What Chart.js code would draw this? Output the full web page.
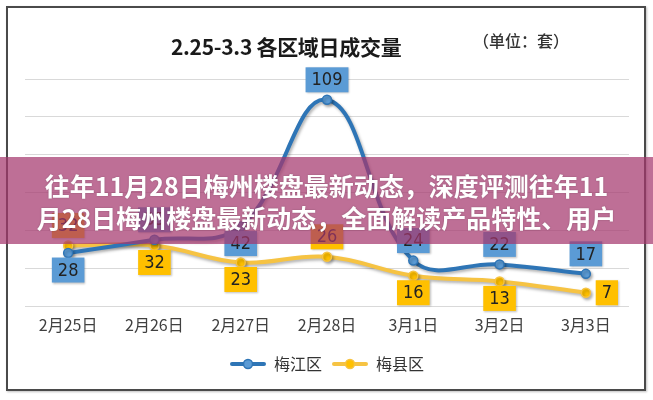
<!DOCTYPE html>
<html lang="zh-CN">
<head>
<meta charset="utf-8">
<title>2.25-3.3 各区域日成交量</title>
<script src="https://cdn.jsdelivr.net/npm/chart.js@4.4.1/dist/chart.umd.min.js"></script>
<style>
  html, body { margin: 0; padding: 0; background: #fff; }
  .stage { position: relative; width: 653px; height: 400px; overflow: hidden; font-family: 'Noto Sans CJK SC', sans-serif; }
  .frame { position: absolute; left: 6px; top: 6px; width: 636px; height: 381px; border: 2px solid #4a4a4a; box-shadow: 1px 1px 2px rgba(0, 0, 0, 0.25); }
  #chart { position: absolute; left: 0; top: 0; }
  .title { position: absolute; left: 171px; top: 32px; font-size: 21px; line-height: 28px; font-weight: bold; color: #1a1a1a; white-space: nowrap; letter-spacing: -0.3px; }
  .unit { position: absolute; left: 473px; top: 29px; font-size: 16px; line-height: 22px; font-weight: 500; color: #333; white-space: nowrap; }
  .banner {
    position: absolute; left: 0; top: 157px; width: 653px; height: 87px;
    background: rgba(165, 55, 110, 0.72);
    display: flex; align-items: center; justify-content: center; text-align: center;
    color: #fff; font-size: 25px; line-height: 32px; font-weight: bold;
    text-shadow: 0 0 2px rgba(0, 0, 0, 0.25);
  }
</style>
</head>
<body>
<div class="stage">
  <div class="frame"></div>
  <canvas id="chart" width="653" height="400"></canvas>
  <div class="title">2.25-3.3 各区域日成交量</div>
  <div class="unit">（单位：套）</div>
  <div class="banner">往年11月28日梅州楼盘最新动态，深度评测往年11<br>月28日梅州楼盘最新动态，全面解读产品特性、用户</div>
</div>
<script>
const dates = ['2月25日', '2月26日', '2月27日', '2月28日', '3月1日', '3月2日', '3月3日'];
const meijiang = [28, 35, 42, 109, 24, 22, 17];
const meixian = [32, 32, 23, 26, 16, 13, 7];
const yTicks = { min: 0, max: 120, step: 20 };

// where each value label sits relative to its point
const meijiangLabelPos = ['below', 'above', 'below', 'above', 'above', 'above', 'above'];
const meixianLabelPos = ['above', 'below', 'below', 'above', 'below', 'below', 'right'];

const BLUE_LINE = '#2E75B6';
const BLUE_FILL = '#5B9BD5';
const GOLD_LINE = '#F6C343';
const GOLD_FILL = '#FFC000';

function makeLegendIcon(lineColor, dotColor) {
  const c = document.createElement('canvas');
  c.width = 36;
  c.height = 12;
  const g = c.getContext('2d');
  g.strokeStyle = lineColor;
  g.lineWidth = 4;
  g.lineCap = 'round';
  g.beginPath();
  g.moveTo(2, 6);
  g.lineTo(34, 6);
  g.stroke();
  g.fillStyle = dotColor;
  g.lineWidth = 1.5;
  g.beginPath();
  g.arc(18, 6, 4.5, 0, Math.PI * 2);
  g.fill();
  g.stroke();
  return c;
}

const lineShadow = {
  id: 'lineShadow',
  beforeDatasetDraw(chart) {
    const ctx = chart.ctx;
    ctx.save();
    ctx.shadowColor = 'rgba(0, 0, 0, 0.3)';
    ctx.shadowBlur = 3;
    ctx.shadowOffsetX = 1.5;
    ctx.shadowOffsetY = 2;
  },
  afterDatasetDraw(chart) {
    chart.ctx.restore();
  },
};

const boxLabels = {
  id: 'boxLabels',
  afterDatasetsDraw(chart) {
    const ctx = chart.ctx;
    ctx.save();
    ctx.font = '18px "Liberation Sans Narrow", "DejaVu Sans Condensed", sans-serif';
    ctx.textAlign = 'center';
    ctx.textBaseline = 'middle';
    chart.data.datasets.forEach((ds, di) => {
      const meta = chart.getDatasetMeta(di);
      meta.data.forEach((pt, i) => {
        const text = String(ds.data[i]);
        const pos = ds.labelPos[i];
        const w = ctx.measureText(text).width + 12;
        const h = 25;
        let cx = pt.x;
        let cy = pt.y;
        if (pos === 'above') cy -= 20;
        else if (pos === 'below') cy += 17;
        else cx += 21;
        ctx.shadowColor = 'rgba(0, 0, 0, 0.25)';
        ctx.shadowBlur = 2;
        ctx.shadowOffsetX = 1;
        ctx.shadowOffsetY = 1;
        ctx.fillStyle = ds.labelFill;
        ctx.fillRect(cx - w / 2, cy - h / 2, w, h);
        ctx.shadowColor = 'transparent';
        ctx.fillStyle = '#222';
        ctx.fillText(text, cx, cy + 1);
      });
    });
    ctx.restore();
  },
};

new Chart(document.getElementById('chart'), {
  type: 'line',
  data: {
    labels: dates,
    datasets: [
      {
        label: '梅江区',
        data: meijiang,
        labelPos: meijiangLabelPos,
        labelFill: BLUE_FILL,
        borderColor: BLUE_LINE,
        backgroundColor: BLUE_FILL,
        pointBackgroundColor: BLUE_FILL,
        pointBorderColor: BLUE_LINE,
        borderWidth: 4,
        pointRadius: 4.5,
        pointBorderWidth: 1.5,
        tension: 0.4,
        fill: false,
      },
      {
        label: '梅县区',
        data: meixian,
        labelPos: meixianLabelPos,
        labelFill: GOLD_FILL,
        borderColor: GOLD_LINE,
        backgroundColor: GOLD_FILL,
        pointBackgroundColor: GOLD_FILL,
        pointBorderColor: GOLD_LINE,
        borderWidth: 4,
        pointRadius: 4.5,
        pointBorderWidth: 1.5,
        tension: 0.4,
        fill: false,
      },
    ],
  },
  options: {
    responsive: false,
    animation: false,
    events: [],
    layout: { padding: { left: 25, right: 24, top: 79, bottom: 18 } },
    plugins: {
      title: { display: false },
      tooltip: { enabled: false },
      legend: {
        position: 'bottom',
        labels: {
          usePointStyle: true,
          pointStyleWidth: 36,
          padding: 10,
          color: '#333',
          font: { family: "'Noto Sans CJK SC', sans-serif", size: 16 },
          generateLabels: (chart) => chart.data.datasets.map((ds, i) => ({
            text: ds.label,
            pointStyle: makeLegendIcon(ds.borderColor, ds.pointBackgroundColor),
            fillStyle: ds.pointBackgroundColor,
            strokeStyle: ds.borderColor,
            lineWidth: 0,
            fontColor: '#333',
            datasetIndex: i,
          })),
        },
      },
    },
    scales: {
      x: {
        offset: true,
        grid: { display: false, drawTicks: false },
        border: { display: false },
        ticks: {
          color: '#404040',
          padding: 9,
          maxRotation: 0,
          font: { family: "'Noto Sans CJK SC', sans-serif", size: 16 },
        },
        afterFit: (scale) => { scale.height = 40; },
      },
      y: {
        min: yTicks.min,
        max: yTicks.max,
        ticks: { display: false, stepSize: yTicks.step },
        grid: { color: '#d9d9d9', lineWidth: 1, drawTicks: false },
        border: { display: false },
        afterFit: (scale) => { scale.width = 0; },
      },
    },
  },
  plugins: [lineShadow, boxLabels],
});
</script>
</body>
</html>
